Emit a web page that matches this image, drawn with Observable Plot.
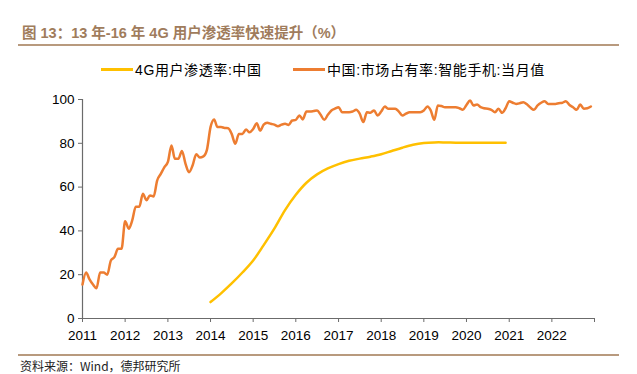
<!DOCTYPE html>
<html>
<head>
<meta charset="utf-8">
<script src="https://cdn.jsdelivr.net/npm/d3@7"></script>
<script src="https://cdn.jsdelivr.net/npm/@observablehq/plot@0.6"></script>
<style>
  body { margin: 0; background: #fff; }
  #wrap { position: relative; width: 637px; height: 374px; overflow: hidden; font-family: "Liberation Sans", "Noto Sans CJK SC", sans-serif; }
  #title { position: absolute; left: 22px; top: 21px; font-size: 14.5px; font-weight: bold; color: #a07c5c; font-family: "Liberation Sans", "Noto Sans CJK SC", sans-serif; white-space: nowrap; }
  #topline { position: absolute; left: 18px; top: 44px; width: 601px; height: 2px; background: #b89a7e; }
  #legend { position: absolute; left: 0; top: 59px; width: 637px; font-size: 14px; letter-spacing: 0.6px; color: #000; font-family: "Liberation Sans", "Noto Sans CJK SC", sans-serif; white-space: nowrap; }
  .item { position: absolute; top: 0; display: flex; align-items: center; height: 20px; }
  .sw { display: inline-block; width: 32px; height: 3px; margin-right: 2px; }
  #chart { position: absolute; left: 0; top: 80px; }
  #botline { position: absolute; left: 18px; top: 354px; width: 601px; height: 2px; background: #b89a7e; }
  #source { position: absolute; left: 20px; top: 359px; font-size: 12px; line-height: 14px; color: #222; font-family: "Noto Sans CJK SC", sans-serif; white-space: nowrap; }
</style>
</head>
<body>
<div id="wrap">
  <div id="title"></div>
  <div id="topline"></div>
  <div id="legend"></div>
  <div id="chart"></div>
  <div id="botline"></div>
  <div id="source"></div>
</div>
<script>
// ---- data ----
const titleText = "图 13：13 年-16 年 4G 用户渗透率快速提升（%）";
const sourceText = "资料来源：Wind，德邦研究所";
const seriesNames = ["4G用户渗透率:中国", "中国:市场占有率:智能手机:当月值"];
const seriesColors = ["#FFC000", "#ED7D31"];

// 4G penetration (quarterly, 2014-01 .. 2020-12)
const penDates = ["2014-01","2014-04","2014-07","2014-10","2015-01","2015-04","2015-07","2015-10",
  "2016-01","2016-04","2016-07","2016-10","2017-01","2017-04","2017-07","2017-10",
  "2018-01","2018-04","2018-07","2018-10","2019-01","2019-04","2019-07","2019-10",
  "2020-01","2020-04","2020-07","2020-10","2020-12"];
const penValues = [7.5,11.5,16,21,26.5,33.5,41,49.5,
  56.5,62,65.8,68.5,70.5,72,73,73.9,
  75,76.5,78,79.3,80.1,80.4,80.4,80.3,
  80.3,80.3,80.3,80.3,80.3];

// smartphone share (monthly, 2011-01 .. 2022-12)
const shareStart = "2011-01";
const shareValues = [
  15.5,21,18,15.5,13.8,21,21,20,26.5,28,31.8,31.8,
  44.4,41,44.7,51,51,57,54,56.2,55.7,63,66,69,
  71.5,79,73,73,76.5,70.6,66.8,70,75,73.5,74,77,
  87.4,90.9,87.4,87.4,87,86.9,84.3,79.8,84.3,84.3,86.3,85,
  86.5,89.2,85.8,88.5,89.4,88.9,88.5,87.8,88.5,88.9,88.4,90.4,
  90.7,92.7,90.9,94.5,94.5,94.7,95,93,90.7,93,95,95.8,
  96.5,94.2,94.2,94.2,94.5,95.3,93.5,89.7,94.2,94,95,92.7,
  94.5,96.8,95.8,95.8,95.8,94.5,92.7,93.5,94.2,94.2,94.2,94.2,
  95,96.8,95,90.7,97.3,97,96.5,96.5,96.5,96.5,96,95.3,
  97.5,99.5,97.3,97.7,96.5,96,95.8,95.3,94.2,95.8,93.9,96,
  99.2,98.5,98,98.3,98.8,97.8,96.3,95.3,97.3,98.5,99.2,98,
  98,98,98.3,98.5,99.2,97.5,96.5,95.3,97.7,95.8,96,96.8
];

const xTickYears = [2011,2012,2013,2014,2015,2016,2017,2018,2019,2020,2021,2022,2023];
const xTickLabels = ["2011","2012","2013","2014","2015","2016","2017","2018","2019","2020","2021","2022",""];
const yTicks = [0,20,40,60,80,100];

// ---- build ----
const parseM = d3.utcParse("%Y-%m");
const pen = penDates.map((d, i) => ({date: parseM(d), value: penValues[i]}));
const s0 = parseM(shareStart);
const share = shareValues.map((v, i) => ({date: d3.utcMonth.offset(s0, i), value: v}));
const xTicks = xTickYears.map(y => new Date(Date.UTC(y, 0, 1)));

document.getElementById("title").textContent = titleText;
document.getElementById("source").textContent = sourceText;

const legend = document.getElementById("legend");
const legendX = [101, 293];
seriesNames.forEach((n, i) => {
  const it = document.createElement("div");
  it.className = "item";
  it.style.left = legendX[i] + "px";
  const sw = document.createElement("span");
  sw.className = "sw";
  sw.style.background = seriesColors[i];
  const tx = document.createElement("span");
  tx.textContent = n;
  it.appendChild(sw); it.appendChild(tx);
  legend.appendChild(it);
});

const axisColor = "#6b6b6b";
const chart = Plot.plot({
  width: 637,
  height: 270,
  marginTop: 19,
  marginBottom: 32,
  marginLeft: 82,
  marginRight: 43,
  style: {fontSize: "13.5px", fontFamily: "'Liberation Sans', Arial, sans-serif", color: "#000", background: "transparent"},
  x: {type: "utc", domain: [xTicks[0], xTicks[xTicks.length - 1]], label: null},
  y: {domain: [0, 100], label: null},
  marks: [
    Plot.axisX({ticks: xTicks, tickSize: 4, tickPadding: 8, stroke: axisColor, fill: "#000",
      tickFormat: d => xTickLabels[xTickYears.indexOf(d.getUTCFullYear())]}),
    Plot.axisY({ticks: yTicks, tickSize: 4, tickPadding: 4, stroke: axisColor, fill: "#000"}),
    Plot.ruleY([0], {stroke: axisColor, strokeWidth: 1.2}),
    Plot.ruleX([xTicks[0]], {stroke: axisColor, strokeWidth: 1.2}),
    Plot.lineY(pen, {x: "date", y: "value", stroke: seriesColors[0], strokeWidth: 2.5, curve: "catmull-rom"}),
    Plot.lineY(share, {x: "date", y: "value", stroke: seriesColors[1], strokeWidth: 2.5, curve: "monotone-x"})
  ]
});
document.getElementById("chart").appendChild(chart);
</script>
</body>
</html>
